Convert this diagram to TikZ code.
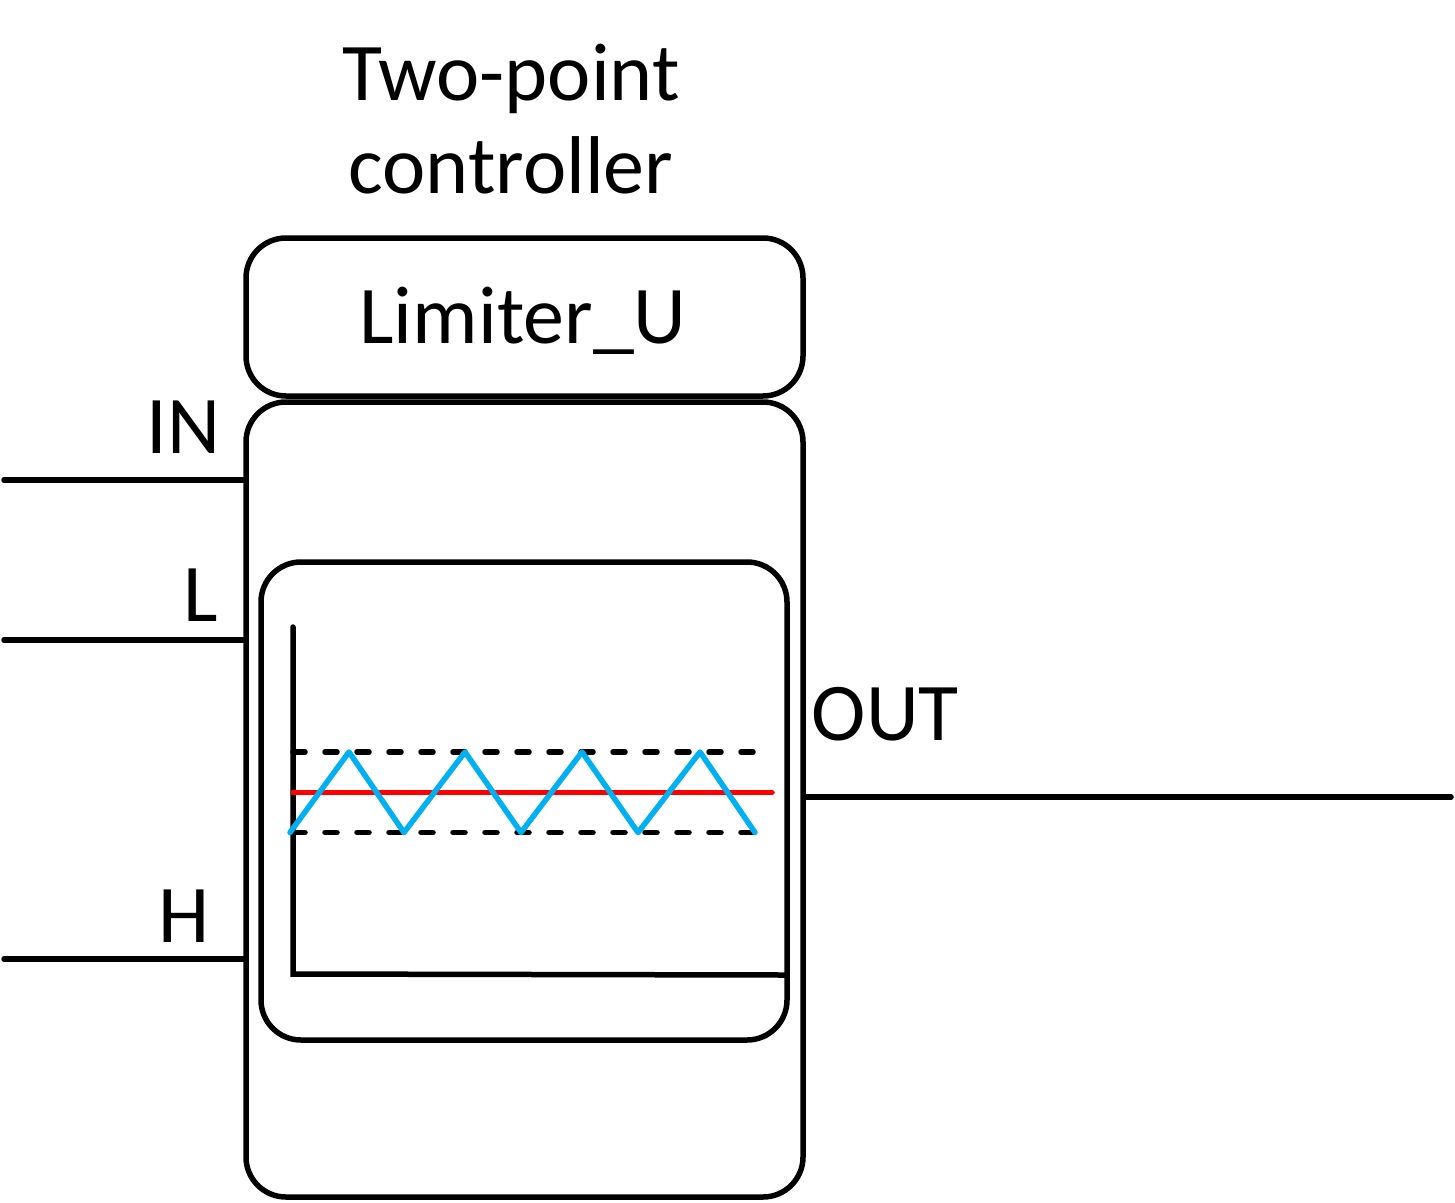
\documentclass[tikz,border=0pt]{standalone}
\usepackage{fontspec}
\setmainfont{Carlito}
\definecolor{zig}{RGB}{0,176,240}
\definecolor{lim}{RGB}{255,0,0}
\begin{document}
\begin{tikzpicture}[x=1pt,y=-1pt,line width=5.5pt,
  box/.style={draw,rounded corners=40pt,inner sep=0pt},
  lbl/.style={inner sep=0pt,font=\fontsize{82}{98}\selectfont},
  wire/.style={line cap=round},
  band/.style={line cap=round,dash pattern=on 12pt off 20pt},
  setp/.style={draw=lim,line cap=round},
  wave/.style={draw=zig,line cap=round,line join=round}]
\useasboundingbox (0,0) rectangle (1455,1202);
% boxes
\node[box,minimum width=557pt,minimum height=158pt] (limbox) at (524.5,317) {};
\node[box,minimum width=557pt,minimum height=795pt] (main) at (524.5,799.5) {};
\node[box,minimum width=526pt,minimum height=478pt] (inner) at (524,801) {};
% texts
\node[lbl,anchor=base] (t1) at (511,100) {Two-point};
\node[lbl,anchor=base] (t2) at (511,193) {controller};
\node[lbl,anchor=base] (limtxt) at (523,343) {Limiter\_U};
\node[lbl,anchor=base east] (inlbl) at (223,453) {IN};
\node[lbl,anchor=base east] (llbl) at (221,621) {L};
\node[lbl,anchor=base east] (hlbl) at (212,942) {H};
\node[lbl,anchor=base west] (outlbl) at (809,740) {OUT};
% wires
\coordinate (inA) at (4,480);
\coordinate (lA) at (4,640);
\coordinate (hA) at (4,959);
\coordinate (outB) at (1451,797);
\draw[wire] (inA) -- (inA -| main.west);
\draw[wire] (lA) -- (lA -| main.west);
\draw[wire] (hA) -- (hA -| main.west);
\draw[wire] (main.east |- outB) -- (outB);
% graph
\coordinate (ytop) at (293,627);
\coordinate (orig) at (293,974);
\coordinate (xend) at (786,975);
\draw[line cap=round] (ytop) -- (orig) -- (xend);
\draw[band] (293,752) -- (758,752);
\draw[band] (293,832.5) -- (758,832.5);
\draw[setp] (293,792.5) -- (772,792.5);
\draw[wave] (290,832.5) -- (349,752) -- (404,832.5) -- (465,752) -- (521,832.5)
  -- (582,752) -- (638,832.5) -- (700,752) -- (755,832.5);
\end{tikzpicture}
\end{document}
